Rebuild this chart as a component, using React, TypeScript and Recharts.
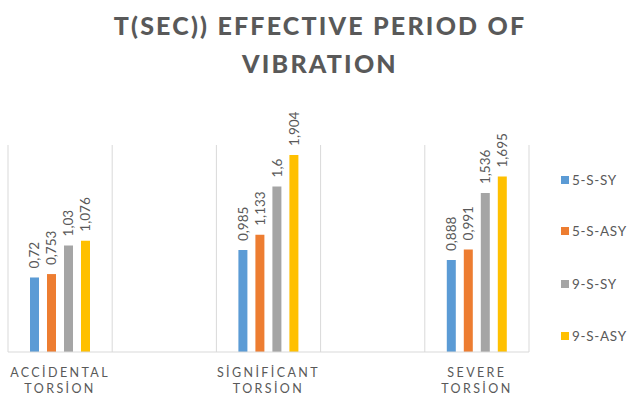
import React from "react";
import { BarChart, Bar, XAxis, YAxis, CartesianGrid, LabelList } from "recharts";

const categories = ["ACCİDENTAL TORSİON", "", "SİGNİFİCANT TORSİON", "", "SEVERE TORSİON"];
const s5sy = [0.72, null, 0.985, null, 0.888];
const s5asy = [0.753, null, 1.133, null, 0.991];
const s9sy = [1.03, null, 1.6, null, 1.536];
const s9asy = [1.076, null, 1.904, null, 1.695];

const series = [
  { key: "s5sy", name: "5-S-SY", color: "#5B9BD5" },
  { key: "s5asy", name: "5-S-ASY", color: "#ED7D31" },
  { key: "s9sy", name: "9-S-SY", color: "#A5A5A5" },
  { key: "s9asy", name: "9-S-ASY", color: "#FFC000" },
];

const data = categories.map((name, i) => ({
  name,
  s5sy: s5sy[i],
  s5asy: s5asy[i],
  s9sy: s9sy[i],
  s9asy: s9asy[i],
}));

const FONT = "Lato, 'Open Sans', sans-serif";
const TEXT = "#595959";

function CategoryTick(props: any) {
  const { x, y, payload } = props;
  if (!payload.value) return null;
  const words = String(payload.value).split(" ");
  return (
    <text x={x} y={y} textAnchor="middle" fill={TEXT} fontSize={12.5} fontFamily={FONT} letterSpacing={2.4}>
      {words.map((w, i) => (
        <tspan key={i} x={x} dy={i === 0 ? 17 : 16}>
          {w}
        </tspan>
      ))}
    </text>
  );
}

function ValueLabel(props: any) {
  const { x, y, width, value } = props;
  if (value == null) return null;
  const cx = x + width / 2;
  const ty = y - 9;
  return (
    <text
      x={cx}
      y={ty}
      transform={`rotate(-90 ${cx} ${ty})`}
      textAnchor="start"
      dominantBaseline="central"
      fill={TEXT}
      fontSize={13.5}
      fontFamily={FONT}
    >
      {String(value).replace(".", ",")}
    </text>
  );
}

export default function App() {
  return (
    <div style={{ position: "absolute", left: 0, top: 0, width: 640, height: 401, background: "#fff" }}>
      <div
        style={{
          position: "absolute",
          left: 0,
          top: 6,
          width: 640,
          textAlign: "center",
          fontFamily: FONT,
          fontWeight: 900,
          fontSize: 25,
          lineHeight: "38px",
          letterSpacing: 2.2,
          color: TEXT,
        }}
      >
        T(SEC)) EFFECTIVE PERIOD OF
        <br />
        VIBRATION
      </div>
      <BarChart
        width={640}
        height={401}
        data={data}
        margin={{ top: 145, right: 111, bottom: 0, left: 8 }}
        barSize={9}
        barGap={8}
      >
        <CartesianGrid
          horizontal={false}
          stroke="#d9d9d9"
          verticalCoordinatesGenerator={({ offset }: any) =>
            categories.map((_, i) => offset.left + (offset.width * i) / categories.length).concat(offset.left + offset.width)
          }
        />
        <XAxis
          dataKey="name"
          height={49}
          tickLine={false}
          axisLine={{ stroke: "#d9d9d9" }}
          interval={0}
          tick={<CategoryTick />}
        />
        <YAxis hide domain={[0, 2]} />
        {series.map((s) => (
          <Bar key={s.key} dataKey={s.key} name={s.name} fill={s.color} isAnimationActive={false}>
            <LabelList dataKey={s.key} content={<ValueLabel />} />
          </Bar>
        ))}
      </BarChart>
      <div style={{ position: "absolute", left: 561, top: 170 }}>
        {series.map((s, i) => (
          <div
            key={s.key}
            style={{
              position: "absolute",
              top: [0, 51, 104, 156][i],
              display: "flex",
              alignItems: "center",
              whiteSpace: "nowrap",
              fontFamily: FONT,
              fontSize: 13.5,
              letterSpacing: 0.7,
              color: TEXT,
              lineHeight: "20px",
            }}
          >
            <span style={{ display: "inline-block", width: 8, height: 8, background: s.color, marginRight: 3 }} />
            {s.name}
          </div>
        ))}
      </div>
    </div>
  );
}
